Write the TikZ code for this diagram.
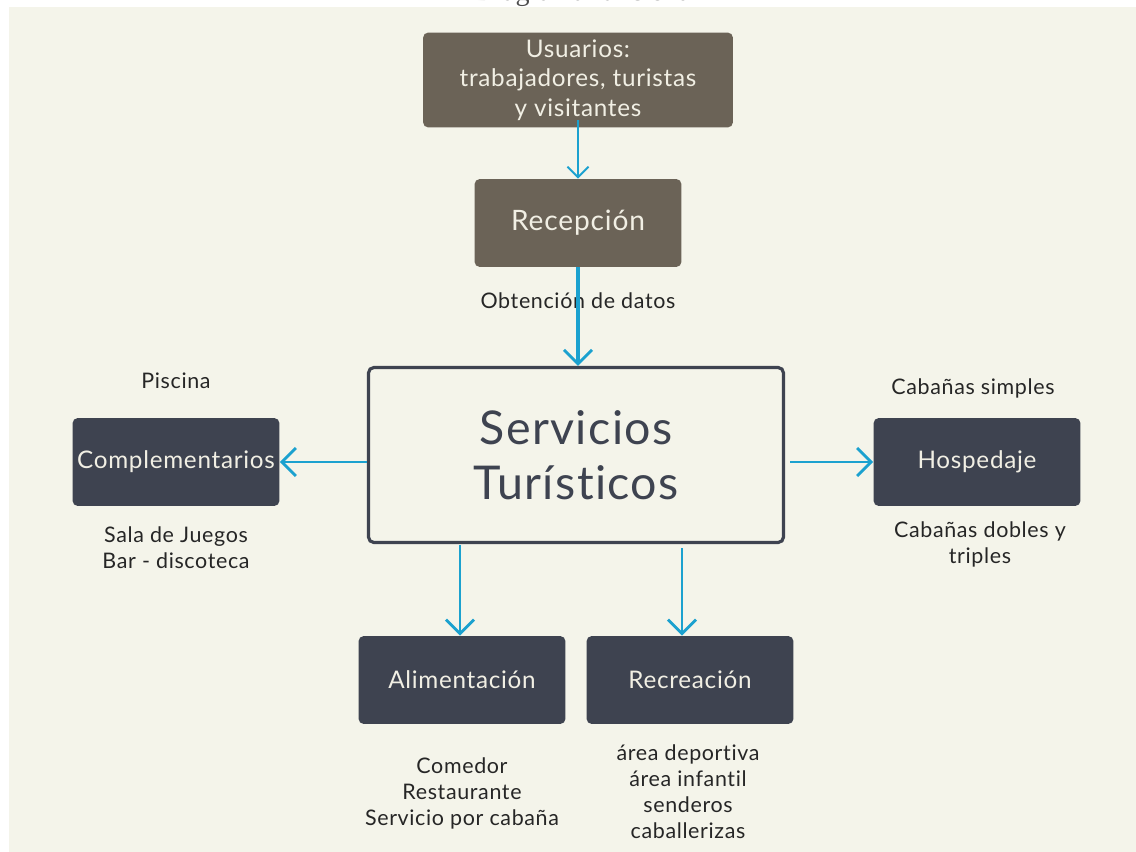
\documentclass[tikz,border=0pt]{standalone}
\usepackage{fontspec}
\setmainfont{Lato}[LetterSpace=3, Ligatures=NoCommon]
\newfontfamily\titlefont{Liberation Serif}
\usepackage{tikz}
\usepackage{xcolor}
\usetikzlibrary{arrows.meta}

\definecolor{paper}{HTML}{F4F4EA}
\definecolor{taupe}{HTML}{6B6357}
\definecolor{slate}{HTML}{3E4350}
\definecolor{flow}{HTML}{1BA1CF}
\definecolor{boxtext}{HTML}{F1EFE4}

\tikzset{
  topbox/.style={fill=taupe, rounded corners=3pt, text=boxtext, align=center,
    minimum width=4.14cm, minimum height=1.76cm, inner sep=0pt},
  areabox/.style={fill=slate, rounded corners=3pt, text=boxtext, align=center,
    minimum width=4.14cm, minimum height=1.76cm, inner sep=0pt, font=\fontsize{13.8}{16}\selectfont},
  note/.style={align=center, text=black!85, font=\fontsize{12.2}{14.8}\selectfont},
  flowline/.style={draw=flow, line width=1.6pt, -{Straight Barb[length=8pt, width=16pt, line width=1.6pt]}},
  thinflow/.style={draw=flow, line width=1.1pt, -{Straight Barb[length=6pt, width=12pt, line width=1.1pt]}}
}

\begin{document}
\begin{tikzpicture}[x=0.02cm, y=-0.02cm]
  % --- page and background ---------------------------------------------
  \useasboundingbox (0,0) rectangle (1136,852);
  \fill[white] (0,0) rectangle (1136,852);
  \fill[paper] (9,7) rectangle (1136,852);
  \node[anchor=base, text=black!70, font=\titlefont\fontsize{16}{18}\selectfont] (title) at (587,1) {Diagrama funcional};

  % --- top chain -------------------------------------------------------
  \node[topbox, minimum width=6.2cm, minimum height=1.9cm, font=\fontsize{13.8}{16.8}\selectfont] (usu) at (578,80)
       {Usuarios:\\trabajadores, turistas\\y visitantes};
  \node[topbox, font=\fontsize{16}{18}\selectfont] (rec) at (578,223) {Recepción};
  \node[draw=slate, line width=1.8pt, rounded corners=3pt, fill=paper, text=slate,
        minimum width=8.3cm, minimum height=3.5cm, align=center,
        font=\fontsize{26.5}{31}\selectfont] (serv) at (576,455) {Servicios\\Turísticos};
  \node[note] (datos) at (578,301) {Obtención de datos};

  % --- service areas ---------------------------------------------------
  \node[areabox] (comp) at (176,462) {Complementarios};
  \node[areabox] (hosp) at (977,462) {Hospedaje};
  \node[areabox] (alim) at (462,680) {Alimentación};
  \node[areabox] (recr) at (690,680) {Recreación};

  % --- notes -----------------------------------------------------------
  \node[note] (piscina) at (176,381) {Piscina};
  \node[note] (sala) at (176,548) {Sala de Juegos\\Bar - discoteca};
  \node[note] (simples) at (973,388) {Cabañas simples};
  \node[note] (dobles) at (980,544) {Cabañas dobles y\\triples};
  \node[note] (comedor) at (462,793) {Comedor\\Restaurante\\Servicio por cabaña};
  \node[note] (areas) at (688,792) {área deportiva\\área infantil\\senderos\\caballerizas};

  % --- connectors ------------------------------------------------------
  \coordinate (usuout) at (578,120);
  \coordinate (alimin) at (460,545);
  \coordinate (recrin) at (682,548);
  \coordinate (hospin) at (790,462);
  \draw[thinflow] (usuout) -- (rec.north);
  \draw[flowline, line width=1.9pt] (rec.south) -- (rec.south |- serv.north);
  \draw[flowline] (serv.west |- comp.east) -- (comp.east);
  \draw[flowline] (hospin) -- (hospin -| hosp.west);
  \draw[flowline] (alimin) -- (alimin |- alim.north);
  \draw[flowline] (recrin) -- (recrin |- recr.north);
\end{tikzpicture}
\end{document}
